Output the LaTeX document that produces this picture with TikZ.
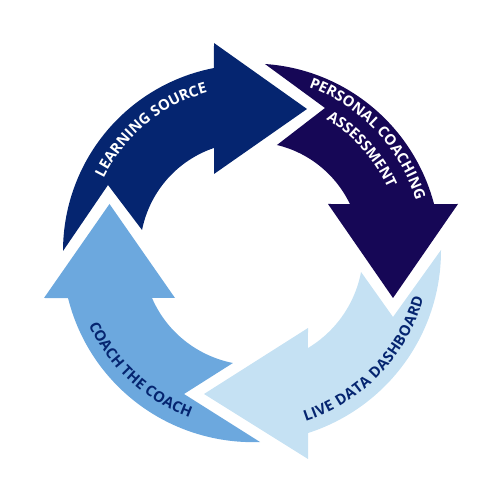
\documentclass[tikz,border=0pt]{standalone}
\usepackage{fontspec}
\setmainfont{Open Sans}
\usetikzlibrary{decorations.text}
\definecolor{cnavy}{RGB}{5,37,112}
\definecolor{cpurple}{RGB}{22,7,86}
\definecolor{clight}{RGB}{197,225,243}
\definecolor{cmid}{RGB}{108,168,222}
\newcommand\lbl{\bfseries\fontsize{14.8}{15}\selectfont}
\tikzset{
  curvetext/.style={decorate,decoration={text along path,text align=center,text={#1}}},
  fittext/.style={decorate,decoration={text along path,text align=fit to path,text={#1}}}
}
\begin{document}
\begin{tikzpicture}[x=1pt,y=1pt]
\useasboundingbox (0,0) rectangle (500,500);
% Arrow A: learning source
\fill[cnavy] plot[domain=180.3:101.2,samples=60,variable=\t]
  ({250+(187+(185.5-187)*(\t-180.3)/(101.2-180.3))*cos(\t)},{250+(187+(185.5-187)*(\t-180.3)/(101.2-180.3))*sin(\t)})
  -- (214,457) -- (307,391) -- (214,326)
  -- plot[domain=109.4:169.5,samples=60,variable=\t]
  ({250+(108.2+(109.8-108.2)*(\t-109.4)/(169.5-109.4))*cos(\t)},{250+(108.2+(109.8-108.2)*(\t-109.4)/(169.5-109.4))*sin(\t)})
  -- (108,315) -- cycle;
% Arrow B: personal coaching assessment
\fill[cpurple] plot[domain=85.4:14.0,samples=60,variable=\t]
  ({250+(186.6+(189.7-186.6)*(\t-85.4)/(14.0-85.4))*cos(\t)},{250+(186.6+(189.7-186.6)*(\t-85.4)/(14.0-85.4))*sin(\t)})
  -- (458,296) -- (393,202) -- (328,296)
  -- plot[domain=24.7:75.6,samples=60,variable=\t]
  ({250+(110+(108.4-110)*(\t-24.7)/(75.6-24.7))*cos(\t)},{250+(110+(108.4-110)*(\t-24.7)/(75.6-24.7))*sin(\t)})
  -- (325,392) -- cycle;
% Arrow C: live data dashboard
\fill[clight] plot[domain=0:-72.4,samples=60,variable=\t]
  ({250+(191+(192-191)*(\t-0)/(-72.4-0))*cos(\t)},{250+(191+(192-191)*(\t-0)/(-72.4-0))*sin(\t)})
  -- (308,41) -- (204,106) -- (308,172)
  -- plot[domain=-59.4:-11.2,samples=60,variable=\t]
  ({250+(113.9+(113.2-113.9)*(\t+59.4)/(-11.2+59.4))*cos(\t)},{250+(113.9+(113.2-113.9)*(\t+59.4)/(-11.2+59.4))*sin(\t)})
  -- (393,183) -- cycle;
% Arrow D: coach the coach
\fill[cmid] plot[domain=273:194.8,samples=60,variable=\t]
  ({250+(192.3+(188.2-192.3)*(\t-273)/(194.8-273))*cos(\t)},{250+(192.3+(188.2-192.3)*(\t-273)/(194.8-273))*sin(\t)})
  -- (44,202) -- (109.5,296) -- (175,202)
  -- plot[domain=206.1:261.4,samples=60,variable=\t]
  ({250+(109.1+(114.3-109.1)*(\t-206.1)/(261.4-206.1))*cos(\t)},{250+(109.1+(114.3-109.1)*(\t-206.1)/(261.4-206.1))*sin(\t)})
  -- (184,106) -- cycle;
% Labels
\path[curvetext={|\lbl\color{white}|LEARNING SOURCE}] (250,250) ++(175:163pt) arc[start angle=175,end angle=84,radius=163pt];
\path[curvetext={|\lbl\color{white}|PERSONAL COACHING}] (250,250) ++(88.4:173pt) arc[start angle=88.4,end angle=-1.6,radius=173pt];
\path[curvetext={|\lbl\color{white}|ASSESSMENT}] (250,250) ++(86.9:151pt) arc[start angle=86.9,end angle=-3.1,radius=151pt];
\path[fittext={|\lbl\color{cnavy}|LIVE DATA DASHBOARD}] (250,250) ++(-72:180pt) arc[start angle=-72,end angle=-15.5,radius=180pt];
\path[curvetext={|\lbl\color{cnavy}|COACH THE COACH}] (250,250) ++(177.6:178pt) arc[start angle=177.6,end angle=277.6,radius=178pt];
\end{tikzpicture}
\end{document}
